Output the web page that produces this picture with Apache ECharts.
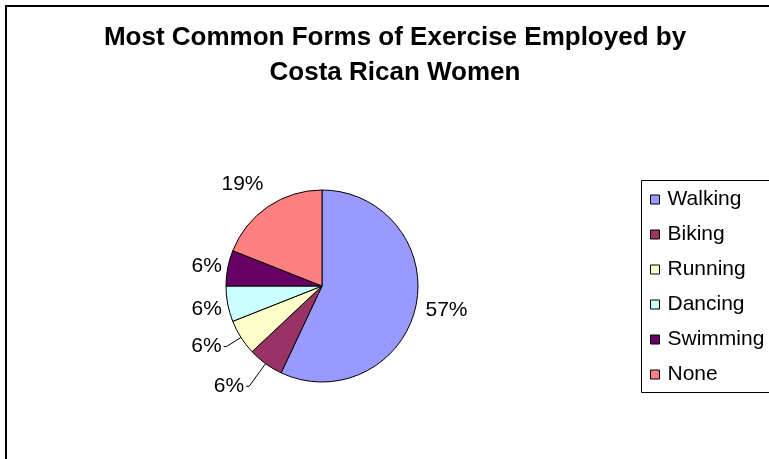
<!doctype html>
<html>
    <head>
        <meta charset="utf-8">
        <title>Exercise - Costa Rican Women</title>
        <style>
            html, body { margin: 0; padding: 0; background: #fff; }
            #main { width: 769px; height: 459px; }
        </style>
    </head>
    <body>
        <div id="main"></div>
        <script src="https://cdn.jsdelivr.net/npm/echarts@6/dist/echarts.min.js"></script>
        <script>
            var categories = ['Walking', 'Biking', 'Running', 'Dancing', 'Swimming', 'None'];
            var shares = [57, 6, 6, 6, 6, 19];
            var colors = ['#9999FF', '#993366', '#FFFFCC', '#CCFFFF', '#660066', '#FF8080'];
            // only the two lower small slices get a leader line in the original
            var showLine = [false, true, true, false, false, false];
            var lineLen = [8, 28, 17, 8, 8, 8];
            var lineLen2 = [8, 3, 3, 8, 8, 8];

            // nudges for the labels that have no leader line
            var labelNudge = [
                { dx: -8, dy: 2 },
                {},
                {},
                { dx: 12, dy: 4 },
                { dx: 12, dy: 0 },
                { dx: 10, dy: -16 }
            ];

            var chart = echarts.init(document.getElementById('main'));

            var font = '"Liberation Sans", Arial, sans-serif';

            var pieData = categories.map(function (name, i) {
                return {
                    name: name,
                    value: shares[i],
                    itemStyle: { color: colors[i] },
                    labelLine: { show: showLine[i], length: lineLen[i], length2: lineLen2[i] }
                };
            });

            chart.setOption({
                animation: false,
                backgroundColor: '#fff',
                title: {
                    text: 'Most Common Forms of Exercise Employed by\nCosta Rican Women',
                    left: 395,
                    textAlign: 'center',
                    top: 20,
                    padding: 0,
                    textStyle: {
                        fontFamily: font,
                        fontWeight: 'bold',
                        fontSize: 26,
                        lineHeight: 35,
                        color: '#000'
                    }
                },
                graphic: [
                    {
                        type: 'rect',
                        silent: true,
                        shape: { x: 6, y: 6, width: 900, height: 600 },
                        style: { fill: 'none', stroke: '#000', lineWidth: 2 }
                    },
                    {
                        type: 'rect',
                        silent: true,
                        shape: { x: 641.5, y: 180.5, width: 200, height: 212 },
                        style: { fill: 'none', stroke: '#000', lineWidth: 1 }
                    }
                ],
                legend: {
                    orient: 'vertical',
                    left: 650,
                    top: 189,
                    padding: 0,
                    itemWidth: 9,
                    itemHeight: 9,
                    itemGap: 14,
                    icon: 'rect',
                    itemStyle: { borderColor: '#000', borderWidth: 1 },
                    textStyle: {
                        fontFamily: font,
                        fontSize: 21,
                        lineHeight: 21,
                        color: '#000',
                        padding: [0, 0, 0, 3]
                    },
                    data: categories
                },
                series: [{
                    type: 'pie',
                    center: [322, 286],
                    radius: 96,
                    startAngle: 90,
                    clockwise: true,
                    avoidLabelOverlap: false,
                    itemStyle: { borderColor: '#000', borderWidth: 1 },
                    emphasis: { disabled: true },
                    label: {
                        show: true,
                        position: 'outside',
                        formatter: '{c}%',
                        fontFamily: font,
                        fontSize: 21,
                        color: '#000',
                        distanceToLabelLine: 2
                    },
                    labelLine: {
                        lineStyle: { color: '#000', width: 1 }
                    },
                    labelLayout: function (params) {
                        return labelNudge[params.dataIndex];
                    },
                    data: pieData
                }]
            });

            window.onresize = chart.resize;
        </script>
    </body>
</html>
